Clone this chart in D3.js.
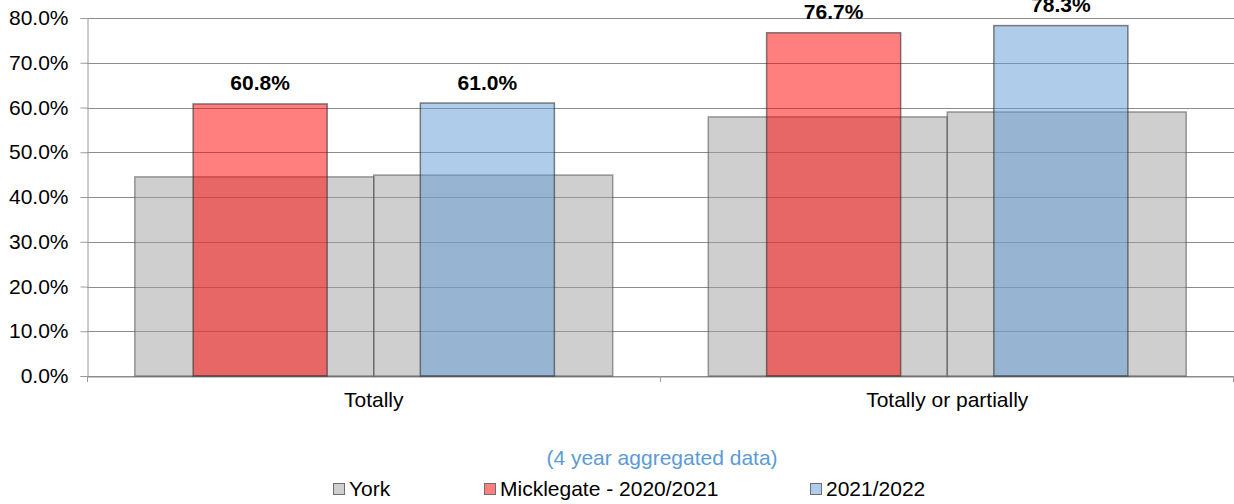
<!DOCTYPE html>
<html>
<head>
  <script src="https://cdnjs.cloudflare.com/ajax/libs/d3/7.8.5/d3.min.js"></script>
  <style>
    body { margin: 0; background: #fff; }
    text { font-family: "Liberation Sans", Arial, sans-serif; }
  </style>
</head>
<body>
  <div id="chart"></div>
  <script>
    // chart data
    const categories = ["Totally", "Totally or partially"];
    const periods = ["2020/2021", "2021/2022"];
    const york = [[44.5, 44.9], [57.9, 59.0]];
    const micklegate = [[60.8, 61.0], [76.7, 78.3]];
    const yTicks = [0, 10, 20, 30, 40, 50, 60, 70, 80];
    const legendItems = ["York", "Micklegate - 2020/2021", "2021/2022"];

    const width = 1234, height = 504;
    const plotL = 87, plotR = 1234, plotT = 18, plotB = 376;
    const fontSize = "21px";

    const svg = d3.select("#chart").append("svg")
      .attr("width", width)
      .attr("height", height);

    const y = d3.scaleLinear().domain([0, 80]).range([plotB, plotT]);
    const x = d3.scaleBand().domain(categories).range([plotL, plotR]).padding(0);

    // grey york bars: wide, touching
    const xGrey = d3.scaleBand().domain(periods).range([0, x.bandwidth()])
      .paddingInner(0).paddingOuter(0.2);
    // coloured bars: narrow
    const xCol = d3.scaleBand().domain(periods).range([0, x.bandwidth()])
      .paddingInner(0.41).paddingOuter(0.467);

    // gridlines
    svg.append("g").selectAll("line")
      .data(yTicks)
      .enter().append("line")
      .attr("x1", plotL).attr("x2", plotR)
      .attr("y1", d => Math.round(y(d)) + 0.5)
      .attr("y2", d => Math.round(y(d)) + 0.5)
      .attr("stroke", "#8c8c8c")
      .attr("stroke-width", 1);

    // y axis
    const yAxis = svg.append("g")
      .attr("transform", "translate(" + (plotL + 0.5) + ",0)")
      .call(d3.axisLeft(y).tickValues(yTicks).tickSize(7).tickPadding(12)
        .tickFormat(d => d.toFixed(1) + "%"));
    yAxis.select(".domain").attr("stroke", "#9a9a9a");
    yAxis.selectAll(".tick line").attr("stroke", "#9a9a9a");
    yAxis.selectAll(".tick text")
      .style("font-family", "Liberation Sans, Arial, sans-serif")
      .style("font-size", fontSize)
      .attr("fill", "#000");

    // x axis
    const xAxis = svg.append("g")
      .attr("transform", "translate(0," + (plotB + 0.5) + ")")
      .call(d3.axisBottom(x).tickSize(0).tickPadding(16));
    xAxis.select(".domain").attr("stroke", "#8c8c8c");
    xAxis.selectAll(".tick text")
      .style("font-family", "Liberation Sans, Arial, sans-serif")
      .style("font-size", fontSize)
      .attr("fill", "#000");
    // category boundary ticks
    svg.append("g").selectAll("line")
      .data(categories.concat(["end"]))
      .enter().append("line")
      .attr("x1", (d, i) => Math.round(plotL + i * x.step()) - 0.5 + (i === 0 ? 1 : 0))
      .attr("x2", (d, i) => Math.round(plotL + i * x.step()) - 0.5 + (i === 0 ? 1 : 0))
      .attr("y1", plotB).attr("y2", plotB + 6)
      .attr("stroke", "#9a9a9a");

    const groups = svg.append("g").selectAll("g")
      .data(categories)
      .enter().append("g")
      .attr("transform", d => "translate(" + x(d) + ",0)");

    // york bars
    groups.selectAll("rect.york")
      .data((d, i) => periods.map((p, j) => ({ p: p, v: york[i][j] })))
      .enter().append("rect")
      .attr("class", "york")
      .attr("x", d => xGrey(d.p))
      .attr("width", xGrey.bandwidth())
      .attr("y", d => y(d.v))
      .attr("height", d => plotB - y(d.v))
      .attr("fill", "rgba(160,160,160,0.5)")
      .attr("stroke", "rgba(80,80,80,0.55)")
      .attr("stroke-width", 1.5);

    const colFill = ["rgba(255,0,0,0.5)", "rgba(95,155,213,0.5)"];

    // micklegate bars
    groups.selectAll("rect.mick")
      .data((d, i) => periods.map((p, j) => ({ p: p, v: micklegate[i][j], j: j })))
      .enter().append("rect")
      .attr("class", "mick")
      .attr("x", d => xCol(d.p))
      .attr("width", xCol.bandwidth())
      .attr("y", d => y(d.v))
      .attr("height", d => plotB - y(d.v))
      .attr("fill", d => colFill[d.j])
      .attr("stroke", "rgba(50,50,50,0.6)")
      .attr("stroke-width", 1.5);

    groups.selectAll("text.val")
      .data((d, i) => periods.map((p, j) => ({ p: p, v: micklegate[i][j] })))
      .enter().append("text")
      .attr("class", "val")
      .attr("x", d => xCol(d.p) + xCol.bandwidth() / 2)
      .attr("y", d => y(d.v) - 13.5)
      .attr("text-anchor", "middle")
      .style("font-size", fontSize)
      .style("font-weight", "bold")
      .text(d => d.v.toFixed(1) + "%");

    // subtitle
    svg.append("text")
      .attr("x", 662).attr("y", 464.5)
      .attr("text-anchor", "middle")
      .attr("fill", "#5b9bd5")
      .style("font-size", fontSize)
      .text("(4 year aggregated data)");

    // legend
    const legX = [333, 484, 810];
    const legFill = ["#cfcfcf", "#ff7f7f", "#afcdea"];
    const leg = svg.append("g").selectAll("g")
      .data(legendItems)
      .enter().append("g")
      .attr("transform", (d, i) => "translate(" + legX[i] + ",483)");
    leg.append("rect")
      .attr("x", 0.5).attr("y", 0.5)
      .attr("width", 11).attr("height", 11)
      .attr("fill", (d, i) => legFill[i])
      .attr("stroke", "#6e6e6e");
    leg.append("text")
      .attr("x", 16).attr("y", 13)
      .style("font-size", fontSize)
      .text(d => d);
  </script>
</body>
</html>
